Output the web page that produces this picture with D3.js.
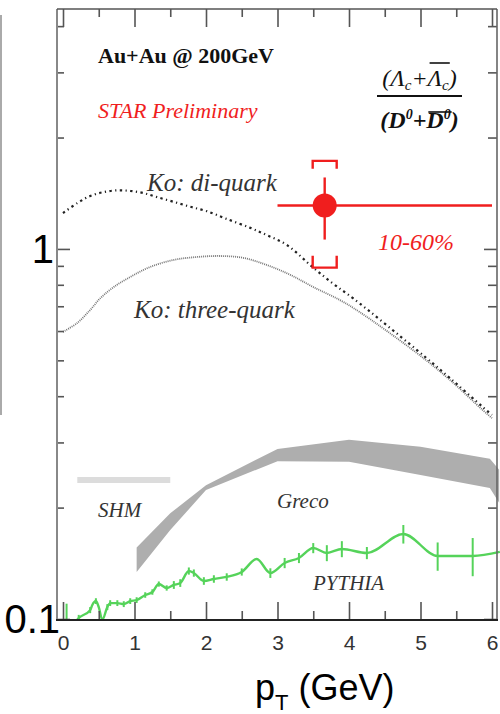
<!DOCTYPE html>
<html><head><meta charset="utf-8">
<script src="https://cdn.jsdelivr.net/npm/d3@7"></script>
<style>
html,body{margin:0;padding:0;background:#fff;}
svg{display:block;}
</style></head>
<body>
<svg id="chart" width="500" height="714"></svg>
<script>
// ---- axis ticks ----
const pTMajor = [0, 1, 2, 3, 4, 5, 6];
const pTMinor = [0.5, 1.5, 2.5, 3.5, 4.5, 5.5];
const yMajor = [0.1, 1];
const yMinor = [0.2, 0.3, 0.4, 0.5, 0.6, 0.7, 0.8, 0.9, 2, 3, 4];
const yLabels = ["0.1", "1"];

// ---- STAR measurement (10-60%) ----
const starPt = [3.66];
const starPtLo = [3.0];
const starPtHi = [6.0];
const starVal = [1.31];
const starStat = [0.25];
const starSys = [0.42];

// ---- Ko coalescence: di-quark ----
const diquarkPt  = [0.0, 0.2, 0.38, 0.57, 0.76, 0.94, 1.13, 1.32, 1.55, 1.78, 2.01, 2.29, 2.62, 2.85, 3.13, 3.5, 3.78, 4.06, 4.95, 5.41, 5.87, 6.0];
const diquarkVal = [1.25, 1.33, 1.39, 1.425, 1.44, 1.435, 1.415, 1.38, 1.34, 1.30, 1.265, 1.205, 1.14, 1.09, 1.025, 0.89, 0.805, 0.735, 0.533, 0.448, 0.374, 0.356];

// ---- Ko coalescence: three-quark ----
const threePt  = [0.0, 0.2, 0.38, 0.52, 0.71, 0.94, 1.22, 1.55, 1.87, 2.2, 2.52, 2.85, 3.18, 3.5, 3.87, 4.15, 4.95, 5.41, 5.87, 6.0];
const threeVal = [0.597, 0.631, 0.684, 0.735, 0.789, 0.84, 0.894, 0.934, 0.951, 0.957, 0.946, 0.905, 0.851, 0.789, 0.728, 0.675, 0.523, 0.443, 0.367, 0.349];

// ---- Greco band ----
const grecoPt   = [1.03, 1.5, 2.0, 3.0, 4.0, 5.0, 5.97, 6.1];
const grecoHigh = [0.156, 0.193, 0.230, 0.288, 0.305, 0.292, 0.271, 0.253];
const grecoLow  = [0.134, 0.174, 0.223, 0.267, 0.266, 0.245, 0.226, 0.206];

// ---- SHM ----
const shmPt = [0.2, 1.5];
const shmLow = [0.233, 0.233];
const shmHigh = [0.242, 0.242];

// ---- PYTHIA ----
const pythiaPt  = [0.05, 0.22, 0.38, 0.41, 0.46, 0.50, 0.55, 0.62, 0.66, 0.76, 0.85, 0.94, 1.03, 1.15, 1.25, 1.34, 1.45, 1.55, 1.64, 1.76, 1.83, 1.97, 2.11, 2.29, 2.50, 2.71, 2.90, 3.10, 3.30, 3.50, 3.69, 3.90, 4.25, 4.76, 5.24, 5.73, 6.11];
const pythiaVal = [0.09, 0.1006, 0.1057, 0.1091, 0.1118, 0.1077, 0.0995, 0.1077, 0.1104, 0.1104, 0.1097, 0.1118, 0.1125, 0.1161, 0.1183, 0.1243, 0.1213, 0.1236, 0.1251, 0.1348, 0.1331, 0.1267, 0.1283, 0.1299, 0.1340, 0.1453, 0.1331, 0.1417, 0.1462, 0.1555, 0.1508, 0.1546, 0.1508, 0.1697, 0.1480, 0.1480, 0.1518];
const pythiaErr = [0.02, 0.002, 0.002, 0, 0.002, 0, 0, 0.002, 0.002, 0.002, 0.002, 0.002, 0.002, 0.002, 0.002, 0.002, 0.002, 0.003, 0.003, 0.003, 0.003, 0.003, 0.003, 0.003, 0.003, 0, 0.004, 0.0045, 0.0046, 0.0049, 0.0075, 0.0077, 0.0057, 0.0098, 0.013, 0.0175, 0];

// ---- layout ----
const svg = d3.select("#chart");
const frame = {left: 57, right: 497, top: 9, bottom: 620};
const x = d3.scaleLinear().domain([0, 6]).range([63, 492]);
const y = d3.scaleLog().domain([0.1, 4.45]).range([619, 9]);

const serif = "'Liberation Serif','Times New Roman',serif";
const sans = "'Liberation Sans',Arial,Helvetica,sans-serif";

// stray panel edge at far left
svg.append("line").attr("x1", 1).attr("x2", 1).attr("y1", 15).attr("y2", 415)
  .attr("stroke", "#aaa").attr("stroke-width", 2);

// clipping for data
svg.append("clipPath").attr("id", "plot")
  .append("rect").attr("x", frame.left).attr("y", frame.top)
  .attr("width", 500 - frame.left).attr("height", frame.bottom - frame.top);
const plot = svg.append("g").attr("clip-path", "url(#plot)");

// SHM band
plot.append("path")
  .datum(shmPt.map((p, i) => ({p, lo: shmLow[i], hi: shmHigh[i]})))
  .attr("fill", "#dcdcdc")
  .attr("d", d3.area().x(d => x(d.p)).y0(d => y(d.lo)).y1(d => y(d.hi)));

// Greco band
plot.append("path")
  .datum(grecoPt.map((p, i) => ({p, lo: grecoLow[i], hi: grecoHigh[i]})))
  .attr("fill", "#aeaeae")
  .attr("d", d3.area().x(d => x(d.p)).y0(d => y(d.lo)).y1(d => y(d.hi)));

// Ko curves
const kline = d3.line().x(d => x(d.p)).y(d => y(d.v)).curve(d3.curveCatmullRom.alpha(0.5));
plot.append("path")
  .datum(threePt.map((p, i) => ({p, v: threeVal[i]})))
  .attr("fill", "none").attr("stroke", "#777").attr("stroke-width", 1.8)
  .attr("stroke-dasharray", "1,1")
  .attr("d", kline);
plot.append("path")
  .datum(diquarkPt.map((p, i) => ({p, v: diquarkVal[i]})))
  .attr("fill", "none").attr("stroke", "#222").attr("stroke-width", 2.2)
  .attr("stroke-dasharray", "2.4,3.4,1.2,3.4")
  .attr("d", kline);

// PYTHIA
const green = "#55d35a";
const pyData = pythiaPt.map((p, i) => ({p, v: pythiaVal[i], e: pythiaErr[i]}));
const pyLine = d3.line().x(d => x(d.p)).y(d => y(d.v)).curve(d3.curveMonotoneX);
plot.append("path").datum(pyData)
  .attr("fill", "none").attr("stroke", green).attr("stroke-width", 2.4)
  .attr("d", pyLine);
plot.selectAll("line.pyerr").data(pyData.filter(d => d.e > 0)).join("line")
  .attr("class", "pyerr")
  .attr("x1", d => x(d.p)).attr("x2", d => x(d.p))
  .attr("y1", d => y(d.v + d.e)).attr("y2", d => y(Math.max(d.v - d.e, 0.05)))
  .attr("stroke", green).attr("stroke-width", 2);

// ---- frame and ticks ----
const tickCol = "#555";
function styleAxis(g) {
  g.select(".domain").remove();
  g.selectAll(".tick line").attr("stroke", tickCol).attr("stroke-width", 1.6);
}
svg.append("g").attr("transform", `translate(0,${frame.bottom})`)
  .call(d3.axisBottom(x).tickValues(pTMajor).tickSize(-18).tickFormat("")).call(styleAxis);
svg.append("g").attr("transform", `translate(0,${frame.bottom})`)
  .call(d3.axisBottom(x).tickValues(pTMinor).tickSize(-9).tickFormat("")).call(styleAxis);
svg.append("g").attr("transform", `translate(0,${frame.top})`)
  .call(d3.axisTop(x).tickValues(pTMajor).tickSize(-18).tickFormat("")).call(styleAxis);
svg.append("g").attr("transform", `translate(0,${frame.top})`)
  .call(d3.axisTop(x).tickValues(pTMinor).tickSize(-8).tickFormat("")).call(styleAxis);
svg.append("g").attr("transform", `translate(${frame.left},0)`)
  .call(d3.axisLeft(y).tickValues(yMajor).tickSize(-13).tickFormat("")).call(styleAxis);
svg.append("g").attr("transform", `translate(${frame.left},0)`)
  .call(d3.axisLeft(y).tickValues(yMinor).tickSize(-7).tickFormat("")).call(styleAxis);
svg.append("g").attr("transform", `translate(${frame.right},0)`)
  .call(d3.axisRight(y).tickValues(yMajor).tickSize(-13).tickFormat("")).call(styleAxis);
svg.append("g").attr("transform", `translate(${frame.right},0)`)
  .call(d3.axisRight(y).tickValues(yMinor).tickSize(-9).tickFormat("")).call(styleAxis);

// x tick labels
svg.append("g").attr("transform", `translate(0,${frame.bottom})`)
  .call(d3.axisBottom(x).tickValues(pTMajor).tickSize(0).tickPadding(15).tickFormat(d3.format("d")))
  .call(g => g.select(".domain").remove())
  .call(g => g.selectAll("text").attr("font-family", sans).attr("font-size", 21).attr("fill", "#333"));

// frame lines
svg.append("line").attr("x1", frame.left).attr("x2", frame.left).attr("y1", frame.top).attr("y2", frame.bottom)
  .attr("stroke", "#888").attr("stroke-width", 2);
svg.append("line").attr("x1", frame.right).attr("x2", frame.right).attr("y1", frame.top).attr("y2", frame.bottom)
  .attr("stroke", "#666").attr("stroke-width", 1.6);
svg.append("line").attr("x1", frame.left).attr("x2", frame.right).attr("y1", frame.top).attr("y2", frame.top)
  .attr("stroke", "#555").attr("stroke-width", 1.6);
svg.append("line").attr("x1", frame.left - 1).attr("x2", frame.right + 1).attr("y1", frame.bottom).attr("y2", frame.bottom)
  .attr("stroke", "#222").attr("stroke-width", 2);

// y labels
svg.selectAll("text.ylab").data(yMajor).join("text")
  .attr("class", "ylab")
  .attr("x", d => d < 1 ? 60 : 54)
  .attr("y", d => y(d) + 14)
  .attr("text-anchor", "end")
  .attr("font-family", sans).attr("font-size", 40).attr("fill", "#000")
  .text((d, i) => yLabels[i]);

// x title
const xt = svg.append("text").attr("x", 255).attr("y", 700)
  .attr("font-family", sans).attr("font-size", 36).attr("fill", "#000");
xt.append("tspan").text("p");
xt.append("tspan").attr("font-size", 22).attr("dy", 10).text("T");
xt.append("tspan").attr("dy", -10).text(" (GeV)");

// ---- STAR point ----
const red = "#f01e1e";
const star = starPt.map((p, i) => ({p, lo: starPtLo[i], hi: starPtHi[i], v: starVal[i], st: starStat[i], sy: starSys[i]}));
const sp = svg.append("g");
star.forEach(d => {
  const cx = x(d.p), cy = y(d.v);
  sp.append("line").attr("x1", x(d.lo)).attr("x2", x(d.hi)).attr("y1", cy).attr("y2", cy)
    .attr("stroke", red).attr("stroke-width", 2.4);
  sp.append("line").attr("x1", cx).attr("x2", cx).attr("y1", y(d.v + d.st)).attr("y2", y(d.v - d.st))
    .attr("stroke", red).attr("stroke-width", 2.4);
  const yt = y(d.v + d.sy), yb = y(d.v - d.sy), w = 12;
  sp.append("path").attr("fill", "none").attr("stroke", red).attr("stroke-width", 2.4)
    .attr("d", `M${cx - w},${yt + 8}V${yt}H${cx + w}V${yt + 8}`);
  sp.append("path").attr("fill", "none").attr("stroke", red).attr("stroke-width", 2.4)
    .attr("d", `M${cx - w},${yb - 12}V${yb}H${cx + w}V${yb - 12}`);
  sp.append("circle").attr("cx", cx).attr("cy", cy).attr("r", 12).attr("fill", red);
});

// ---- annotations ----
function label(txt, px, py, size, opts = {}) {
  return svg.append("text").attr("x", px).attr("y", py)
    .attr("font-family", serif).attr("font-size", size)
    .attr("font-style", opts.italic === false ? "normal" : "italic")
    .attr("font-weight", opts.bold ? "bold" : "normal")
    .attr("fill", opts.fill || "#333").text(txt);
}
label("Au+Au @ 200GeV", 98, 63, 22, {italic: false, bold: true, fill: "#111"});
label("STAR Preliminary", 98, 118, 22, {fill: red});
label("Ko: di-quark", 147, 191, 25);
label("Ko: three-quark", 134, 318, 25);
label("10-60%", 378, 250, 24, {fill: red});
label("SHM", 98, 517, 21);
label("Greco", 277, 508, 21);
label("PYTHIA", 313, 590, 21);

// ratio label
const num = svg.append("text").attr("x", 419.5).attr("y", 86).attr("text-anchor", "middle")
  .attr("font-family", serif).attr("font-style", "italic").attr("font-size", 24).attr("fill", "#111");
num.append("tspan").text("(Λ");
num.append("tspan").attr("font-size", 15).attr("dy", 4).text("c");
num.append("tspan").attr("dy", -4).text("+Λ");
num.append("tspan").attr("font-size", 15).attr("dy", 4).text("c");
num.append("tspan").attr("dy", -4).text(")");
const den = svg.append("text").attr("x", 419.5).attr("y", 128).attr("text-anchor", "middle")
  .attr("font-family", serif).attr("font-style", "italic").attr("font-weight", "bold").attr("font-size", 24).attr("fill", "#111");
den.append("tspan").text("(D");
den.append("tspan").attr("font-size", 14).attr("dy", -9).text("0");
den.append("tspan").attr("dy", 9).text("+D");
den.append("tspan").attr("font-size", 14).attr("dy", -9).text("0");
den.append("tspan").attr("dy", 9).text(")");
svg.append("line").attr("x1", 377).attr("x2", 462).attr("y1", 96).attr("y2", 96)
  .attr("stroke", "#111").attr("stroke-width", 1.8);
function overline(t, a, b, yy) {
  const n = t.node();
  const s = n.getStartPositionOfChar(a).x, e = n.getEndPositionOfChar(b).x;
  svg.append("line").attr("x1", s + 2).attr("x2", e + 1).attr("y1", yy).attr("y2", yy)
    .attr("stroke", "#111").attr("stroke-width", 1.6);
}
overline(num, 4, 5, 63);
overline(den, 4, 5, 112);
</script>
</body></html>
